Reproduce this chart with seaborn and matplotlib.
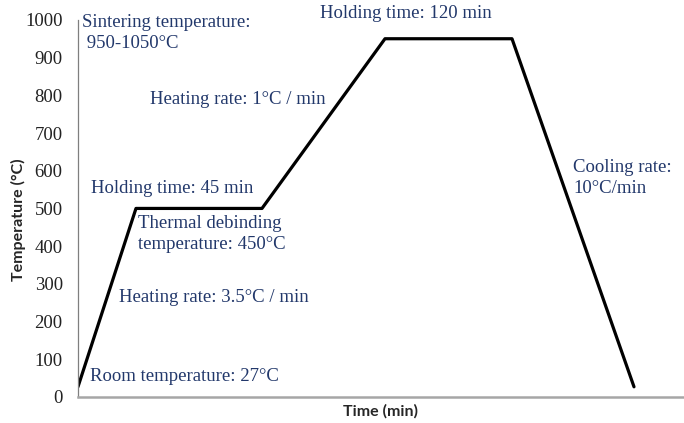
import pandas as pd
import matplotlib.pyplot as plt
import seaborn as sns

# schematic time axis (arbitrary units, no ticks shown)
time = [0, 58, 184, 307, 434, 556]
temperature = [27, 500, 500, 950, 950, 27]
y_ticks = list(range(0, 1001, 100))

labels = [
    ("Sintering temperature:\n 950-1050°C", 4, 965),
    ("Holding time: 120 min", 242, 1016),
    ("Heating rate: 1°C / min", 72, 788),
    ("Holding time: 45 min", 13, 552),
    ("Thermal debinding\ntemperature: 450°C", 60, 432),
    ("Heating rate: 3.5°C / min", 41, 263),
    ("Room temperature: 27°C", 12, 53),
    ("Cooling rate:\n10°C/min", 495, 581),
]

df = pd.DataFrame({"time": time, "temperature": temperature})

sns.set_style("white")
fig = plt.figure(figsize=(6.84, 4.23), dpi=100)
ax = fig.add_axes([0.114, 0.0615, 0.886, 0.8915])

sns.lineplot(data=df, x="time", y="temperature", color="black", linewidth=2.3,
             sort=False, ax=ax)

ax.set_xlim(0, 606)
ax.set_ylim(0, 1000)
ax.set_xticks([])
ax.set_yticks(y_ticks)
ax.set_yticklabels([str(t) for t in y_ticks], fontfamily="Liberation Serif",
                   fontsize=13.5, color="#222222")
ax.tick_params(axis="y", length=0, pad=11)

for side in ["top", "right"]:
    ax.spines[side].set_visible(False)
ax.spines["left"].set_color("#7f7f7f")
ax.spines["left"].set_linewidth(0.9)
ax.spines["bottom"].set_color("#a6a6a6")
ax.spines["bottom"].set_linewidth(1.8)

ax.set_xlabel("Time (min)", fontfamily="Lato", fontweight="bold", fontsize=11.5, labelpad=5)
ax.set_ylabel("Temperature (°C)", fontfamily="Lato", fontweight="bold", fontsize=11.5, labelpad=2)
ax.yaxis.set_label_coords(-0.086, 0.47)

for txt, x, y in labels:
    ax.text(x, y, txt, fontfamily="Liberation Serif", fontsize=13.5, color="#22386b",
            ha="left", va="center", linespacing=1.35)

fig.savefig("out.png", dpi=100)
